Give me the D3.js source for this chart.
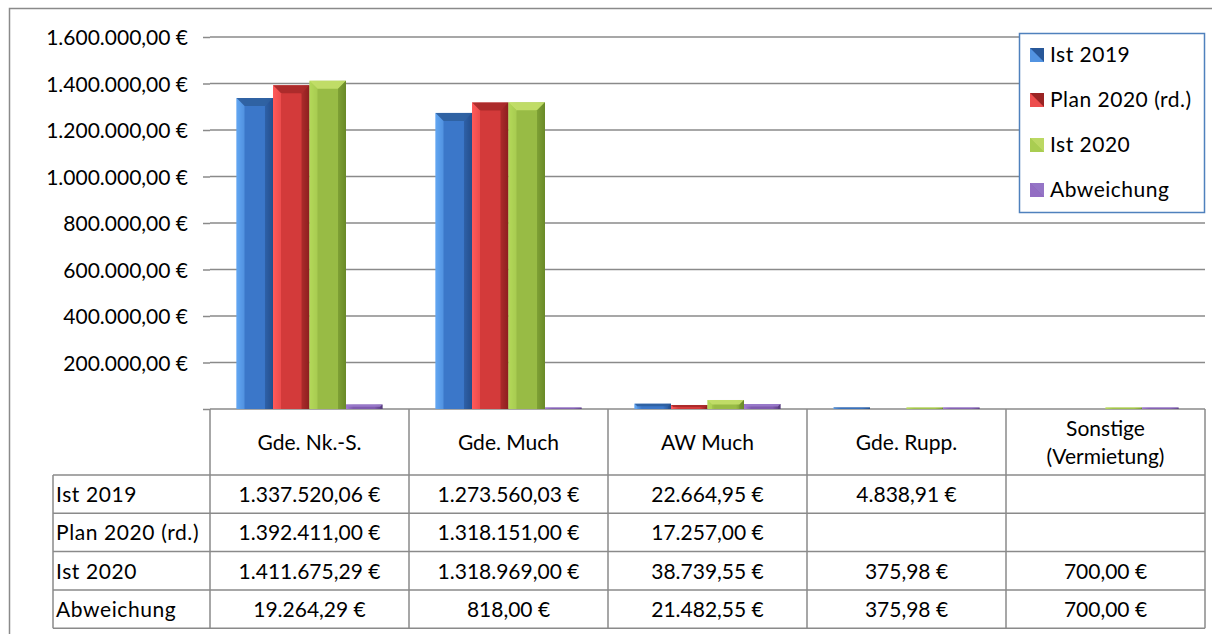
<!DOCTYPE html>
<html>
<head>
<meta charset="utf-8">
<script src="https://cdn.jsdelivr.net/npm/d3@7"></script>
<style>
	body { margin: 0; background: #fff; }
	svg { display: block; font-family: Lato, "Open Sans", sans-serif; }
	text { fill: #000; }
</style>
</head>
<body>
<svg id="chart" width="1214" height="634"></svg>
<script>

// categories / series / values
var categories = ["Gde. Nk.-S.", "Gde. Much", "AW Much", "Gde. Rupp.", "Sonstige (Vermietung)"];
var categoryLines = [["Gde. Nk.-S."], ["Gde. Much"], ["AW Much"], ["Gde. Rupp."], ["Sonstige", "(Vermietung)"]];
var seriesNames = ["Ist 2019", "Plan 2020 (rd.)", "Ist 2020", "Abweichung"];

var ist2019 = [1337520.06, 1273560.03, 22664.95, 4838.91, null];
var plan2020 = [1392411.00, 1318151.00, 17257.00, null, null];
var ist2020 = [1411675.29, 1318969.00, 38739.55, 375.98, 700.00];
var abweichung = [19264.29, 818.00, 21482.55, 375.98, 700.00];

var yTicks = [200000, 400000, 600000, 800000, 1000000, 1200000, 1400000, 1600000];

var seriesValues = [ist2019, plan2020, ist2020, abweichung];

// colour sets: light edge, body, dark edge, top facet
var seriesColors = [
	{light: "#62a6f2", base: "#3b77c9", dark: "#244f8c", top: "#2f5f9f"},
	{light: "#ff5a5a", base: "#d33a3a", dark: "#8c1f1f", top: "#a72a2a"},
	{light: "#b4d85a", base: "#98bb45", dark: "#6a8a28", top: "#c4e06a"},
	{light: "#a07ad0", base: "#7f5bae", dark: "#553a7c", top: "#9b7ccc"}
];

//#################
//### layout ###
//#################
var plotLeft = 210, plotRight = 1205, plotTop = 37, plotBottom = 409;
var headerBottom = 475, rowHeight = 38.3, tableLeft = 53;
var gridColor = "#8a8a8a";
var fontSize = 21;

var svg = d3.select("#chart");

var fmt = d3.formatLocale({decimal: ",", thousands: ".", grouping: [3], currency: ["", " €"]});
var euro = function(v){ return fmt.format(",.2f")(v) + " €"; };

var y = d3.scaleLinear().domain([0, 1600000]).range([plotBottom, plotTop]);
var x0 = d3.scaleBand().domain(categories).range([plotLeft, plotRight]);
var x1 = d3.scaleBand().domain(seriesNames).range([0, x0.bandwidth()]).paddingOuter(0.726);

// outer frame (only top and left edge visible)
svg.append("path")
	.attr("d", "M9.5,634 L9.5,8.5 L1212,8.5")
	.attr("fill", "none")
	.attr("stroke", gridColor)
	.attr("stroke-width", 1.5);

// gradients for bars
var defs = svg.append("defs");
seriesColors.forEach(function(c, i){
	var g = defs.append("linearGradient").attr("id", "body" + i)
		.attr("x1", 0).attr("x2", 1).attr("y1", 0).attr("y2", 0);
	g.append("stop").attr("offset", 0).attr("stop-color", c.light);
	g.append("stop").attr("offset", 0.2).attr("stop-color", c.base);
	g.append("stop").attr("offset", 0.78).attr("stop-color", c.base);
	g.append("stop").attr("offset", 1).attr("stop-color", c.dark);
});

// gridlines + ticks
var yAxis = d3.axisLeft(y).tickValues(yTicks.concat([0]))
	.tickSize(7)
	.tickFormat(function(d){ return d == 0 ? "" : euro(d); });

var axisG = svg.append("g")
	.attr("transform", "translate(" + plotLeft + ",0)")
	.call(yAxis);
axisG.select(".domain").remove();
axisG.selectAll(".tick line").attr("stroke", gridColor).attr("stroke-width", 1.5);
axisG.selectAll(".tick text")
	.attr("x", -22)
	.attr("dy", "0.36em")
	.attr("font-size", fontSize)
	.attr("font-family", "Lato, sans-serif")
	.attr("fill", "#000");

svg.append("g").selectAll("line")
	.data(yTicks.concat([0]))
	.enter().append("line")
		.attr("x1", plotLeft).attr("x2", plotRight)
		.attr("y1", function(d){ return y(d); })
		.attr("y2", function(d){ return y(d); })
		.attr("stroke", gridColor)
		.attr("stroke-width", 1.5);

// bars
var bevel = 8;
var barGroup = svg.append("g");
seriesValues.forEach(function(values, s){
	var c = seriesColors[s];
	values.forEach(function(v, i){
		if(v == null) return;
		var bx = x0(categories[i]) + x1(seriesNames[s]);
		var bw = x1.bandwidth();
		var by = y(v);
		var bh = plotBottom - by;
		if(bh < 1.5){ by = plotBottom - 1.5; bh = 1.5; }
		var g = barGroup.append("g");
		g.append("rect")
			.attr("x", bx).attr("y", by)
			.attr("width", bw).attr("height", bh)
			.attr("fill", "url(#body" + s + ")");
		var b = Math.min(bevel, bh / 2, bw / 2);
		// top facet
		g.append("polygon")
			.attr("points", [[bx, by], [bx + bw, by], [bx + bw - b, by + b], [bx + b, by + b]].join(" "))
			.attr("fill", c.top)
			.attr("opacity", 0.9);
		// left facet
		g.append("polygon")
			.attr("points", [[bx, by], [bx + b, by + b], [bx + b, by + bh], [bx, by + bh]].join(" "))
			.attr("fill", c.light)
			.attr("opacity", 0.6);
		// right facet
		g.append("polygon")
			.attr("points", [[bx + bw, by], [bx + bw - b, by + b], [bx + bw - b, by + bh], [bx + bw, by + bh]].join(" "))
			.attr("fill", c.dark)
			.attr("opacity", 0.55);
	});
});

//#################
//### data table ###
//#################
var table = svg.append("g")
	.attr("stroke", gridColor)
	.attr("stroke-width", 1.5);

var tableBottom = headerBottom + rowHeight * seriesNames.length;

// vertical lines at category borders
var borders = categories.map(function(d){ return x0(d); }).concat([plotRight]);
table.selectAll("line.v")
	.data(borders)
	.enter().append("line")
		.attr("x1", function(d){ return d; }).attr("x2", function(d){ return d; })
		.attr("y1", plotBottom).attr("y2", tableBottom);

table.append("line")
	.attr("x1", tableLeft).attr("x2", tableLeft)
	.attr("y1", headerBottom).attr("y2", tableBottom);

table.selectAll("line.h")
	.data(d3.range(seriesNames.length + 1))
	.enter().append("line")
		.attr("x1", tableLeft).attr("x2", plotRight)
		.attr("y1", function(d){ return headerBottom + d * rowHeight; })
		.attr("y2", function(d){ return headerBottom + d * rowHeight; });

// header labels
categoryLines.forEach(function(lines, i){
	var cx = x0(categories[i]) + x0.bandwidth() / 2;
	var cy = (plotBottom + headerBottom) / 2;
	var t = svg.append("text")
		.attr("text-anchor", "middle")
		.attr("font-size", fontSize)
		.attr("x", cx);
	lines.forEach(function(line, k){
		t.append("tspan")
			.attr("x", cx)
			.attr("y", cy + (k - (lines.length - 1) / 2) * 28 + 8)
			.text(line);
	});
});

// rows
seriesNames.forEach(function(name, s){
	var cy = headerBottom + s * rowHeight + rowHeight / 2 + 8;
	svg.append("text")
		.attr("x", tableLeft + 3)
		.attr("y", cy)
		.attr("font-size", fontSize)
		.attr("letter-spacing", 0.6)
		.text(name);
	seriesValues[s].forEach(function(v, i){
		if(v == null) return;
		svg.append("text")
			.attr("x", x0(categories[i]) + x0.bandwidth() / 2)
			.attr("y", cy)
			.attr("text-anchor", "middle")
			.attr("font-size", fontSize)
			.text(euro(v));
	});
});

//#################
//### legend ###
//#################
var legend = svg.append("g").attr("transform", "translate(1019,33)");
legend.append("rect")
	.attr("x", 0.5).attr("y", 0.5)
	.attr("width", 185).attr("height", 179)
	.attr("fill", "#fff")
	.attr("stroke", "#4f81bd")
	.attr("stroke-width", 1.5);

seriesNames.forEach(function(name, s){
	var c = seriesColors[s];
	var ly = 22 + s * 45;
	var sq = 14;
	var lx = 11;
	var item = legend.append("g");
	item.append("rect")
		.attr("x", lx).attr("y", ly - sq / 2)
		.attr("width", sq).attr("height", sq)
		.attr("fill", c.base);
	item.append("polygon")
		.attr("points", [[lx, ly - sq / 2], [lx + sq, ly - sq / 2], [lx + sq, ly + sq / 2]].join(" "))
		.attr("fill", s < 2 ? c.dark : c.top)
		.attr("opacity", 0.8);
	item.append("polygon")
		.attr("points", [[lx, ly - sq / 2], [lx, ly + sq / 2], [lx + sq, ly + sq / 2]].join(" "))
		.attr("fill", c.light)
		.attr("opacity", 0.6);
	item.append("text")
		.attr("x", lx + sq + 6)
		.attr("y", ly + 7)
		.attr("font-size", fontSize)
		.attr("letter-spacing", 0.5)
		.text(name);
});

</script>
</body>
</html>
